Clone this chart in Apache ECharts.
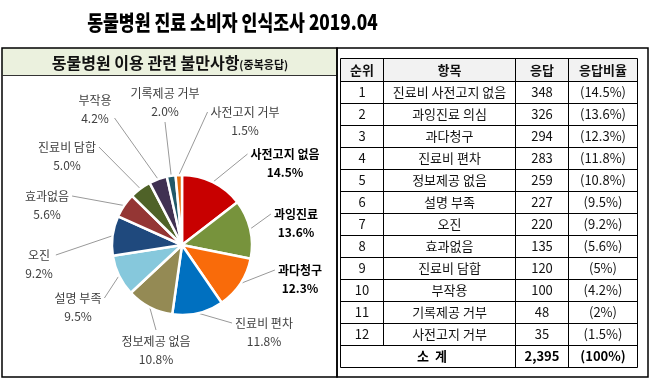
<!DOCTYPE html>
<html><head><meta charset="utf-8">
<script src="https://cdn.jsdelivr.net/npm/echarts@6/dist/echarts.min.js"></script>
<style>html,body{margin:0;padding:0;background:#fff}#c{width:660px;height:389px}</style>
</head><body><div id="c"></div>
<script>
// ---------- data ----------
const chartTitle = '동물병원 진료 소비자 인식조사 2019.04';
const panelTitle = '동물병원 이용 관련 불만사항';
const panelTitleNote = '(중복응답)';
const pieNames = ['사전고지 없음','과잉진료','과다청구','진료비 편차','정보제공 없음','설명 부족','오진','효과없음','진료비 담합','부작용','기록제공 거부','사전고지 거부'];
const tableItems = ['진료비 사전고지 없음','과잉진료 의심','과다청구','진료비 편차','정보제공 없음','설명 부족','오진','효과없음','진료비 담합','부작용','기록제공 거부','사전고지 거부'];
const ranks = [1,2,3,4,5,6,7,8,9,10,11,12];
const responses = [348,326,294,283,259,227,220,135,120,100,48,35];
const ratioTexts = ['(14.5%)','(13.6%)','(12.3%)','(11.8%)','(10.8%)','(9.5%)','(9.2%)','(5.6%)','(5%)','(4.2%)','(2%)','(1.5%)'];
const tableHeaders = ['순위','항목','응답','응답비율'];
const totalLabel = '소  계';
const totalResponses = '2,395';
const totalRatio = '(100%)';
const boldLabels = [true,true,true,false,false,false,false,false,false,false,false,false];

// ---------- style / layout ----------
const sliceColors = ['#C80000','#77933C','#F96B0A','#0070C0','#948A54','#86C8DC','#1F497D','#943634','#4F6228','#403152','#215968','#E46C0A'];
// label block centers (layout only)
const labelCenters = [[285,163],[296,223],[300,279],[264,332],[156,350],[78,307],[39,264],[47,205],[67,156],[95,109],[165,102],[245,121]];
// where on the label box the leader line ends (fractions of the box)
const labelAnchors = [[0,0.25],[0,0.25],[0,0.25],[0,0.25],[0.5,0],[1,0.25],[1,0.25],[1,0.25],[1,0.25],[1,0.75],[0.5,1],[0,0.25]];
const FONT = '"Noto Sans CJK KR", "Noto Sans", sans-serif';

const chart = echarts.init(document.getElementById('c'), null, {renderer:'canvas'});

// ---------- graphic: frames & table ----------
const g = [];
function line(x1,y1,x2,y2,w,c){ g.push({type:'line', silent:true, shape:{x1,y1,x2,y2}, style:{stroke:c||'#000', lineWidth:w||1}}); }
function text(x,y,t,font,fill,extra){ g.push(Object.assign({type:'text', x, y, silent:true, style:{text:t, font, fill:fill||'#000', align:'center', verticalAlign:'middle'}}, extra||{})); }

// title
text(232.5, 22, chartTitle, '900 21px ' + FONT, '#000', {scaleX:0.82});

// left panel
g.push({type:'rect', silent:true, shape:{x:2, y:48, width:335, height:27}, style:{fill:'#EBF1DE'}});
g.push({type:'rect', silent:true, shape:{x:2, y:48, width:335, height:329}, style:{fill:null, stroke:'#000', lineWidth:1.5}});
line(2, 75.5, 337, 75.5, 1, '#333');
g.push({type:'text', x:170, y:63, silent:true, style:{
  text:'{a|' + panelTitle + '}{b|' + panelTitleNote + '}',
  align:'center', verticalAlign:'middle',
  rich:{a:{font:'bold 16px ' + FONT, fill:'#111'}, b:{font:'bold 11px ' + FONT, fill:'#111', padding:[3,0,0,0]}}
}});

// right panel
g.push({type:'rect', silent:true, shape:{x:337, y:48, width:311, height:329}, style:{fill:null, stroke:'#000', lineWidth:1.5}});

// table
const colX = [340.5, 383.5, 515.5, 568.5, 637.5];
const rowY = [58.5, 81.5];
for (let i = 1; i <= 13; i++) rowY.push(81.5 + 22 * i);
g.push({type:'rect', silent:true, shape:{x:colX[0], y:rowY[0], width:colX[4]-colX[0], height:rowY[1]-rowY[0]}, style:{fill:'#F2F2F2'}});
rowY.forEach(y => line(colX[0], y, colX[4], y, 1));
colX.forEach((x, k) => {
  if (k === 1) line(x, rowY[0], x, rowY[13], 1);
  else line(x, rowY[0], x, rowY[14], 1);
});
const colC = [0,1,2,3].map(k => (colX[k] + colX[k+1]) / 2);
const rowC = k => (rowY[k] + rowY[k+1]) / 2;
tableHeaders.forEach((h, k) => text(colC[k], rowC(0), h, 'bold 13px ' + FONT, '#111'));
ranks.forEach((r, i) => {
  const y = rowC(i + 1);
  text(colC[0], y, String(r), '13px ' + FONT, '#111');
  text(colC[1], y, tableItems[i], '13px ' + FONT, '#111');
  text(colC[2], y, String(responses[i]), '13px ' + FONT, '#111');
  text(colC[3], y, ratioTexts[i], '13px ' + FONT, '#111');
});
text((colX[0] + colX[2]) / 2 + 4, rowC(13), totalLabel, 'bold 13px ' + FONT);
text(colC[2], rowC(13), totalResponses, 'bold 13px ' + FONT);
text(colC[3], rowC(13), totalRatio, 'bold 13px ' + FONT);

// ---------- pie ----------
const pieData = pieNames.map((n, i) => ({
  name: n, value: responses[i],
  itemStyle: {color: sliceColors[i]},
  label: boldLabels[i] ? {fontWeight:'bold', color:'#000'} : {}
}));

chart.setOption({
  animation: false,
  graphic: {elements: g},
  series: [{
    type: 'pie',
    center: [182, 245],
    radius: 70,
    startAngle: 90,
    clockwise: true,
    avoidLabelOverlap: false,
    percentPrecision: 1,
    data: pieData,
    itemStyle: {borderColor:'#fff', borderWidth:2.5},
    label: {
      show: true, position: 'outside',
      formatter: p => p.name + '\n' + p.percent.toFixed(1) + '%',
      fontFamily: FONT, fontSize: 12, color: '#404040', lineHeight: 18,
      align: 'center'
    },
    labelLine: {show: true, length: 8, length2: 8, lineStyle: {color:'#999999', width:1}},
    labelLayout: function (p) {
      const i = p.dataIndex;
      const c = labelCenters[i];
      const w = p.labelRect.width, h = p.labelRect.height;
      const a = labelAnchors[i];
      const ex = c[0] - w/2 + a[0]*w + (a[0] === 0 ? -3 : a[0] === 1 ? 3 : 0);
      const ey = c[1] - h/2 + a[1]*h + (a[1] === 0 ? -2 : a[1] === 1 ? 2 : 0);
      const res = {x: c[0], y: c[1], align: 'center', verticalAlign: 'middle'};
      if (p.labelLinePoints && p.labelLinePoints.length) {
        const s = p.labelLinePoints[0];
        res.labelLinePoints = [[s[0], s[1]], [ex, ey], [ex, ey]];
      }
      return res;
    }
  }]
});
</script></body></html>
